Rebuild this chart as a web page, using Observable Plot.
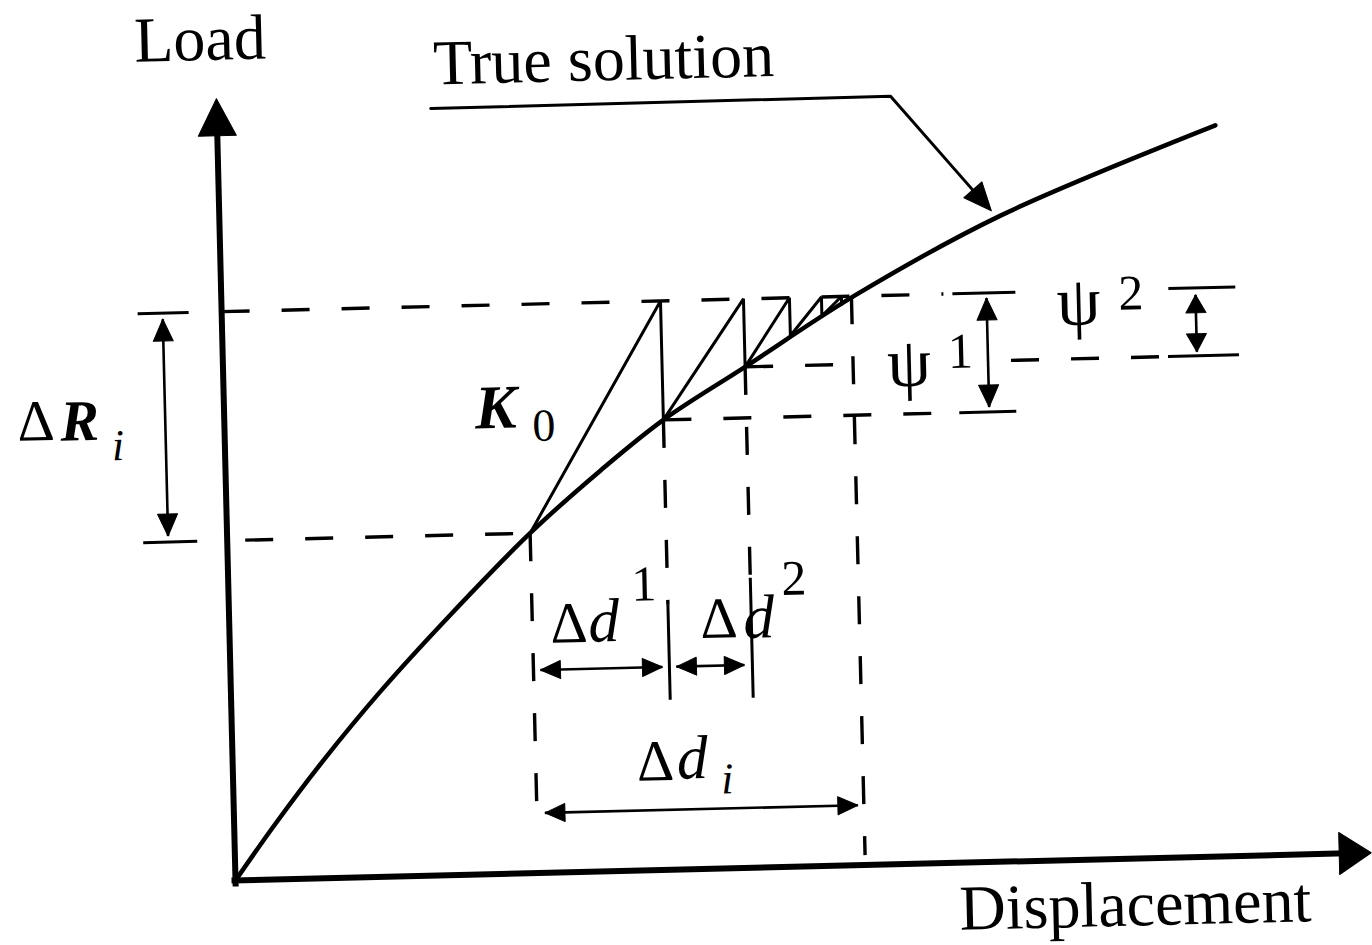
<!DOCTYPE html>
<html>
<head>
<meta charset="utf-8">
<script src="https://cdn.jsdelivr.net/npm/d3@7"></script>
<script src="https://cdn.jsdelivr.net/npm/@observablehq/plot@0.6"></script>
<style>
  html, body { margin: 0; padding: 0; background: #fff; }
  #chart { width: 1372px; height: 945px; overflow: hidden; background: #fff; }
  /* the printed figure sits slightly tilted on the page */
  #chart svg { display: block; overflow: visible; transform: rotate(-1.4deg); transform-origin: 235px 880px; }
</style>
</head>
<body>
<div id="chart"></div>
<script>
// Modified Newton-Raphson iteration within one load step.
// Units: displacement d and load R, both in drawing units.

// True load-displacement curve
const trueD = [0, 40, 90, 150, 220, 303, 375, 439, 522, 634, 781, 998];
const trueR = [0, 54, 117, 186, 259, 340, 401, 450, 501, 570, 646, 731];

// Load levels at the start and the end of the step (R_{i-1}, R_i)
const loadLevels = [340, 569];

// Equilibrium points reached by the iterations (on the true curve)
const iterD = [303, 439, 522, 568, 600, 620];
const iterR = [340, 450, 501, 531, 550, 561];

// Displacement where the step ends (converged)
const stepEndD = 630;

// Axis extents
const axisMaxD = 1136;
const axisMaxR = 782;

const F = "Liberation Serif, Times New Roman, serif";
const [Rlow, Rtop] = loadLevels;

// ---- derived geometry -------------------------------------------------
const curve = trueD.map((d, i) => ({d, R: trueR[i]}));

// stiffness K0 sawtooth: up the tangent to R_i, then drop onto the curve
const saw = [];
iterD.forEach((d, k) => {
  saw.push({d, R: iterR[k]});
  if (k < iterD.length - 1) saw.push({d: iterD[k + 1], R: Rtop});
});

// filled arrowheads, built as small closed polygons
const heads = [];
let hid = 0;
function head(tip, from, len, half) {
  const dx = tip[0] - from[0], dy = tip[1] - from[1], n = Math.hypot(dx, dy);
  const ux = dx / n, uy = dy / n;
  const bx = tip[0] - ux * len, by = tip[1] - uy * len;
  const id = hid++;
  heads.push({id, d: tip[0], R: tip[1]},
             {id, d: bx - uy * half, R: by + ux * half},
             {id, d: bx + uy * half, R: by - ux * half},
             {id, d: tip[0], R: tip[1]});
}

const solid = [];   // plain segments {x1,y1,x2,y2,w}
function seg(x1, y1, x2, y2, w) { solid.push({x1, y1, x2, y2, w}); }

// double-headed dimension arrow
function dim(a, b, len = 20, half = 9) {
  seg(a[0], a[1], b[0], b[1], 2.6);
  head(a, b, len, half);
  head(b, a, len, half);
}

// axes
seg(0, -6, 0, axisMaxR - 30, 6);
head([0, axisMaxR], [0, 0], 37, 19);
seg(-4, 0, axisMaxD - 25, 0, 6);
head([axisMaxD, 0], [0, 0], 32, 21);

// ΔR_i dimension with its end ticks
seg(-84, Rtop, -33, Rtop, 3);
seg(-84, Rlow, -30, Rlow, 3);
dim([-59, Rtop - 6], [-59, Rlow + 6], 22, 10);

// ψ¹ dimension
seg(731, Rtop, 794, Rtop, 3);
seg(735, iterR[1], 792, iterR[1], 3);
dim([765, Rtop - 5], [765, iterR[1] + 5], 22, 10);

// ψ² dimension
seg(947, Rtop, 1014, Rtop, 3);
seg(945, iterR[2], 1016, iterR[2], 3);
dim([974, Rtop - 7], [974, iterR[2] + 4], 18, 10);

// Δd¹, Δd², Δd_i dimensions
dim([310, 203], [432, 203]);
dim([446, 203], [514, 203]);
dim([311, 60], [624, 60]);

// solid extension lines under Δd¹ / Δd²
seg(iterD[1], 265, iterD[1], 170, 3);
seg(iterD[2], 290, iterD[2], 170, 3);

// leader from the "True solution" label to the curve
const leader = [{d: 214, R: 767}, {d: 674, R: 768}, {d: 760, R: 665}];
head([772, 651], [674, 768], 28, 12);

// dashed construction lines
const dashed = [
  {x1: 0, y1: Rtop, x2: 722, y2: Rtop},
  {x1: 18, y1: Rlow, x2: iterD[0] - 3, y2: Rlow},
  {x1: iterD[1], y1: iterR[1], x2: 725, y2: iterR[1]},
  {x1: iterD[2], y1: iterR[2], x2: stepEndD - 8, y2: iterR[2]},
  {x1: 788, y1: iterR[2], x2: 943, y2: iterR[2]},
  {x1: iterD[0], y1: Rlow, x2: iterD[0], y2: 45},
  {x1: iterD[1], y1: iterR[1], x2: iterD[1], y2: 265},
  {x1: iterD[2], y1: iterR[2], x2: iterD[2], y2: 290},
  {x1: stepEndD, y1: Rtop, x2: stepEndD, y2: 10}
];

// ---- labels -------------------------------------------------------------
const titles = [
  {t: "Load", d: -15, R: 821},
  {t: "True solution", d: 388, R: 791},
  {t: "Displacement", d: 899, R: -67}
];
const upright = [
  {t: "Δ", d: -207, R: 445, s: 58},
  {t: "Δ", d: 321, R: 230, s: 58},
  {t: "Δ", d: 471, R: 231, s: 58},
  {t: "Δ", d: 404, R: 90, s: 58},
  {t: "1", d: 403, R: 270, s: 50},
  {t: "2", d: 553, R: 272, s: 50},
  {t: "0", d: 308, R: 432, s: 46},
  {t: "ψ", d: 664, R: 478, s: 70},
  {t: "1", d: 725, R: 495, s: 50},
  {t: "ψ", d: 835, R: 535, s: 70},
  {t: "2", d: 897, R: 549, s: 50}
];
const italic = [
  {t: "d", d: 359, R: 230, s: 62},
  {t: "d", d: 514, R: 230, s: 62},
  {t: "d", d: 444, R: 91, s: 62},
  {t: "i", d: 488, R: 75, s: 44},
  {t: "i", d: -113, R: 423, s: 44}
];
const boldItalic = [
  {t: "R", d: -164, R: 444, s: 58},
  {t: "K", d: 251, R: 446, s: 62}
];

// The SVG runs a little below the visible page so the tilted bottom label
// stays inside its own box; one drawing unit is one pixel on both axes.
const chart = Plot.plot({
  width: 1372,
  height: 1000,
  margin: 0,
  x: {domain: [-235, 1137], axis: null},
  y: {domain: [-120, 880], axis: null},
  style: {background: "#fff", color: "#000", overflow: "visible"},
  marks: [
    Plot.link(dashed, {x1: "x1", y1: "y1", x2: "x2", y2: "y2",
      stroke: "#000", strokeWidth: 3.4, strokeDasharray: "28,32"}),
    Plot.link(solid, {x1: "x1", y1: "y1", x2: "x2", y2: "y2",
      stroke: "#000", strokeWidth: d => d.w}),
    Plot.line(saw, {x: "d", y: "R", stroke: "#000", strokeWidth: 3, strokeLinejoin: "miter"}),
    Plot.line(curve, {x: "d", y: "R", stroke: "#000", strokeWidth: 4.5, curve: "catmull-rom"}),
    Plot.line(leader, {x: "d", y: "R", stroke: "#000", strokeWidth: 3}),
    Plot.line(heads, {x: "d", y: "R", z: "id", fill: "#000", stroke: "#000", strokeWidth: 1}),
    Plot.text(titles, {x: "d", y: "R", text: "t", fontSize: 64, fontFamily: F,
      textAnchor: "middle", lineAnchor: "bottom", fill: "#000"}),
    Plot.text(upright, {x: "d", y: "R", text: "t", fontSize: "s", fontFamily: F,
      textAnchor: "start", lineAnchor: "bottom", fill: "#000"}),
    Plot.text(italic, {x: "d", y: "R", text: "t", fontSize: "s", fontFamily: F,
      fontStyle: "italic", textAnchor: "start", lineAnchor: "bottom", fill: "#000"}),
    Plot.text(boldItalic, {x: "d", y: "R", text: "t", fontSize: "s", fontFamily: F,
      fontStyle: "italic", fontWeight: "bold", textAnchor: "start", lineAnchor: "bottom", fill: "#000"})
  ]
});
document.getElementById("chart").append(chart);
</script>
</body>
</html>
